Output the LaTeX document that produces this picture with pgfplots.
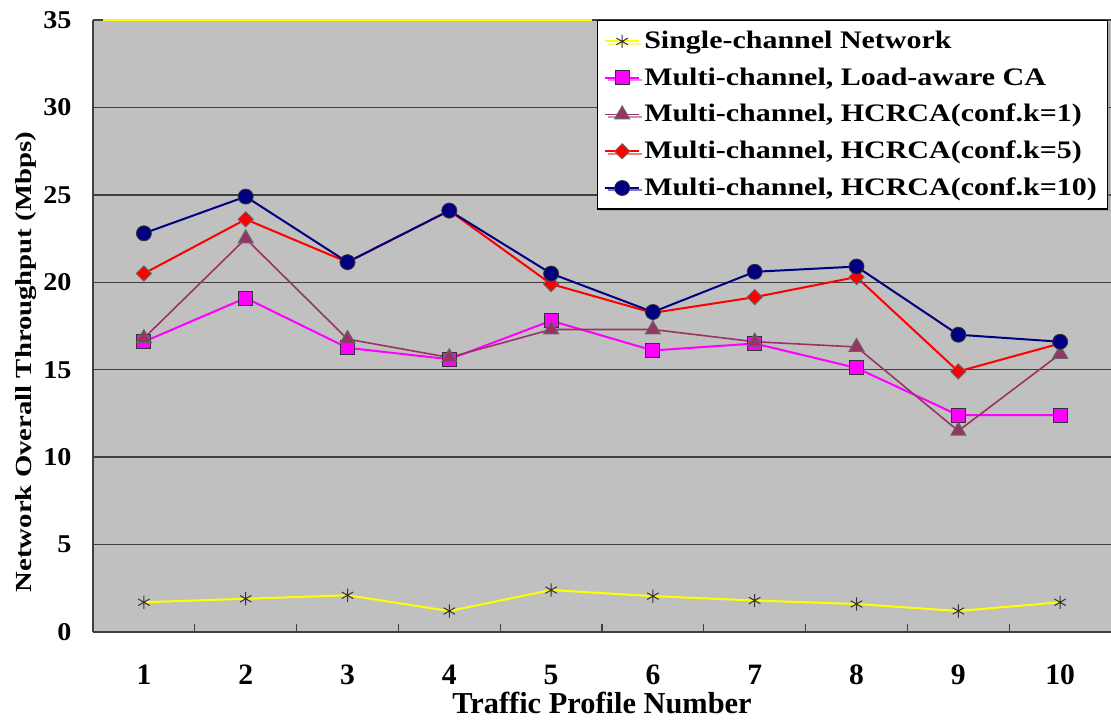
\documentclass[border=0pt]{standalone}
\usepackage{fontspec}
\setmainfont{Liberation Serif}
\newfontfamily\legfont[FakeStretch=1.19]{Liberation Serif}
\newfontfamily\ytfont[FakeStretch=1.1]{Liberation Serif}
\newfontfamily\ylabfont[FakeStretch=1.25]{Liberation Serif}
\usepackage{pgfplots}
\pgfplotsset{compat=1.18}
\usetikzlibrary{shadows}
\definecolor{bggray}{HTML}{C0C0C0}
\definecolor{plum}{HTML}{993366}
\definecolor{navyc}{HTML}{000080}
\definecolor{magc}{HTML}{FF00FF}
\definecolor{yelc}{HTML}{FFFF00}
\definecolor{redc}{HTML}{FF0000}
\begin{document}
\begin{tikzpicture}
\path[use as bounding box] (0,0) rectangle (555.5pt,363pt);
\begin{axis}[
  at={(46.5pt,47pt)}, anchor=south west,
  scale only axis, width=509pt, height=306pt,
  xmin=0.5, xmax=10.5, ymin=0, ymax=35,
  axis x line*=bottom, axis y line*=left,
  axis line style={-, draw=black!75, line width=0.8pt},
  axis background/.style={fill=bggray},
  xtick={1,...,10}, minor xtick={1.5,2.5,...,9.5},
  major x tick style={draw=none},
  minor tick length=4pt,
  minor x tick style={black!75, line width=0.6pt},
  ytick={0,5,...,35},
  major y tick style={draw=none},
  ymajorgrids, grid style={black!75, line width=0.75pt},
  /pgf/number format/assume math mode=true,
  xticklabel style={font=\fontsize{14.8}{16}\selectfont\bfseries, yshift=-13pt},
  yticklabel style={font=\ytfont\fontsize{12.8}{15}\selectfont\bfseries, xshift=-7.2pt},
  xlabel={Traffic Profile Number},
  ylabel={Network Overall Throughput (Mbps)},
  xlabel style={font=\fontsize{15.2}{17}\selectfont\bfseries, at={(axis description cs:0.5,0)}, anchor=base, yshift=-41pt},
  ylabel style={font=\ylabfont\fontsize{11.5}{14}\selectfont\bfseries, at={(axis description cs:0,0.5)}, anchor=base, yshift=31pt, xshift=-18pt},
  legend style={at={(rel axis cs:0.495,1)}, anchor=north west,
    font=\legfont\fontsize{12.6}{15}\selectfont\bfseries, draw=black, line width=0.6pt,
    fill=white, row sep=4pt, inner sep=3.3pt,
    drop shadow={shadow xshift=1.2pt, shadow yshift=-1.2pt, fill=black!45}},
  legend cell align=left,
  every axis plot/.append style={line width=1pt},
  clip=false,
]
\draw[yelc, line width=0.6pt] (axis cs:0.6,35) -- (axis cs:5.4,35);
\addplot[color=yelc, mark=asterisk, mark size=3.3pt, mark options={draw=black!80, line width=0.5pt}]
  coordinates {(1,1.7)(2,1.9)(3,2.1)(4,1.2)(5,2.4)(6,2.05)(7,1.8)(8,1.6)(9,1.2)(10,1.7)};
\addlegendentry{Single-channel Network}
\addplot[color=magc, mark=square*, mark size=3.5pt, mark options={fill=magc, draw=black!80, line width=0.5pt}]
  coordinates {(1,16.6)(2,19.1)(3,16.25)(4,15.6)(5,17.8)(6,16.1)(7,16.5)(8,15.1)(9,12.4)(10,12.4)};
\addlegendentry{Multi-channel, Load-aware CA}
\addplot[color=plum, line width=0.8pt, mark=triangle*, mark size=4.3pt, mark options={fill=plum, draw=black!60, line width=0.5pt}]
  coordinates {(1,16.8)(2,22.5)(3,16.75)(4,15.7)(5,17.3)(6,17.3)(7,16.6)(8,16.3)(9,11.5)(10,15.9)};
\addlegendentry{Multi-channel, HCRCA(conf.k=1)}
\addplot[color=redc, mark=square*, mark size=2.7pt, mark options={rotate=45, fill=redc, draw=black!60, line width=0.4pt}]
  coordinates {(1,20.5)(2,23.6)(3,21.15)(4,24.1)(5,19.9)(6,18.25)(7,19.15)(8,20.3)(9,14.9)(10,16.5)};
\addlegendentry{Multi-channel, HCRCA(conf.k=5)}
\addplot[color=navyc, mark=*, mark size=3.75pt, mark options={fill=navyc, draw=black!80, line width=0.4pt}]
  coordinates {(1,22.8)(2,24.9)(3,21.15)(4,24.1)(5,20.5)(6,18.3)(7,20.6)(8,20.9)(9,17.0)(10,16.6)};
\addlegendentry{Multi-channel, HCRCA(conf.k=10)}
\end{axis}
\end{tikzpicture}
\end{document}
